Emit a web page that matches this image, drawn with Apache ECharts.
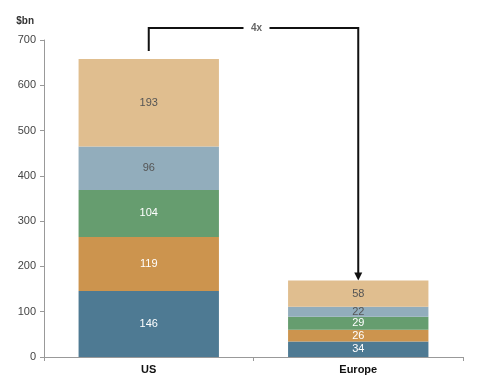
<!DOCTYPE html>
<html>
<head>
<meta charset="utf-8">
<script src="https://cdn.jsdelivr.net/npm/echarts@6/dist/echarts.min.js"></script>
<style>
  html, body { margin: 0; padding: 0; background: #fff; }
  #chart { width: 485px; height: 383px; }
</style>
</head>
<body>
<div id="chart"></div>
<script>
// 类别和各层数值（自下而上）
var regions = ['US', 'Europe'];
var layer1 = [146, 34];
var layer2 = [119, 26];
var layer3 = [104, 29];
var layer4 = [96, 22];
var layer5 = [193, 58];
var yTicks = [0, 100, 200, 300, 400, 500, 600, 700];
var ratioText = '4x';

var chart = echarts.init(document.getElementById('chart'));

var layers = [
  { data: layer1, color: '#4E7A93', text: '#fff' },
  { data: layer2, color: '#CC944E', text: '#fff' },
  { data: layer3, color: '#669D6F', text: '#fff' },
  { data: layer4, color: '#92ADBC', text: '#555' },
  { data: layer5, color: '#E0BE8F', text: '#555' }
];

var series = layers.map(function (l) {
  return {
    type: 'bar',
    stack: 'total',
    barWidth: '67%',
    data: l.data,
    itemStyle: { color: l.color },
    label: {
      show: true,
      position: 'inside',
      color: l.text,
      fontSize: 11,
      fontFamily: 'Liberation Sans, Arial, sans-serif'
    },
    silent: true
  };
});

var option = {
  animation: false,
  grid: { left: 44, right: 22, top: 40, bottom: 26 },
  xAxis: {
    type: 'category',
    data: regions,
    axisLine: { lineStyle: { color: '#999' } },
    axisTick: { show: true, length: 4, lineStyle: { color: '#999' } },
    axisLabel: {
      color: '#111', fontWeight: 'bold', fontSize: 11, margin: 7,
      fontFamily: 'Liberation Sans, Arial, sans-serif'
    }
  },
  yAxis: {
    type: 'value',
    min: yTicks[0],
    max: yTicks[yTicks.length - 1],
    interval: 100,
    name: '$bn',
    nameLocation: 'end',
    nameGap: 14,
    nameTextStyle: {
      color: '#333', fontWeight: 'bold', fontSize: 10, align: 'right', padding: [0, 10, 0, 0],
      fontFamily: 'Liberation Sans, Arial, sans-serif'
    },
    axisLine: { show: true, lineStyle: { color: '#999' } },
    axisTick: { show: true, length: 4, lineStyle: { color: '#999' } },
    splitLine: { show: false },
    axisLabel: {
      color: '#444', fontSize: 11, margin: 8,
      fontFamily: 'Liberation Sans, Arial, sans-serif'
    }
  },
  series: series
};

chart.setOption(option);

// 用坐标系换算画 "4x" 标注箭头
function total(i) {
  return layers.reduce(function (s, l) { return s + l.data[i]; }, 0);
}
var pUS = chart.convertToPixel({ gridIndex: 0 }, [regions[0], total(0)]);
var pEU = chart.convertToPixel({ gridIndex: 0 }, [regions[1], total(1)]);
var topY = 28;
var midX = chart.convertToPixel({ xAxisIndex: 0 }, regions[0]) / 2 + chart.convertToPixel({ xAxisIndex: 0 }, regions[1]) / 2;
var lineStyle = { stroke: '#111', lineWidth: 2 };

chart.setOption({
  graphic: [
    { type: 'polyline', shape: { points: [[pUS[0], pUS[1] - 8], [pUS[0], topY], [midX - 10, topY]] }, style: { stroke: '#111', lineWidth: 2, fill: null } },
    { type: 'polyline', shape: { points: [[midX + 16, topY], [pEU[0], topY], [pEU[0], pEU[1] - 7]] }, style: { stroke: '#111', lineWidth: 2, fill: null } },
    { type: 'polygon', shape: { points: [[pEU[0] - 4, pEU[1] - 8], [pEU[0] + 4, pEU[1] - 8], [pEU[0], pEU[1]]] }, style: { fill: '#111' } },
    { type: 'text', x: midX + 3, y: topY, style: { text: ratioText, fill: '#666', fontSize: 10, fontWeight: 'bold', align: 'center', verticalAlign: 'middle', fontFamily: 'Liberation Sans, Arial, sans-serif' } }
  ]
});
</script>
</body>
</html>
